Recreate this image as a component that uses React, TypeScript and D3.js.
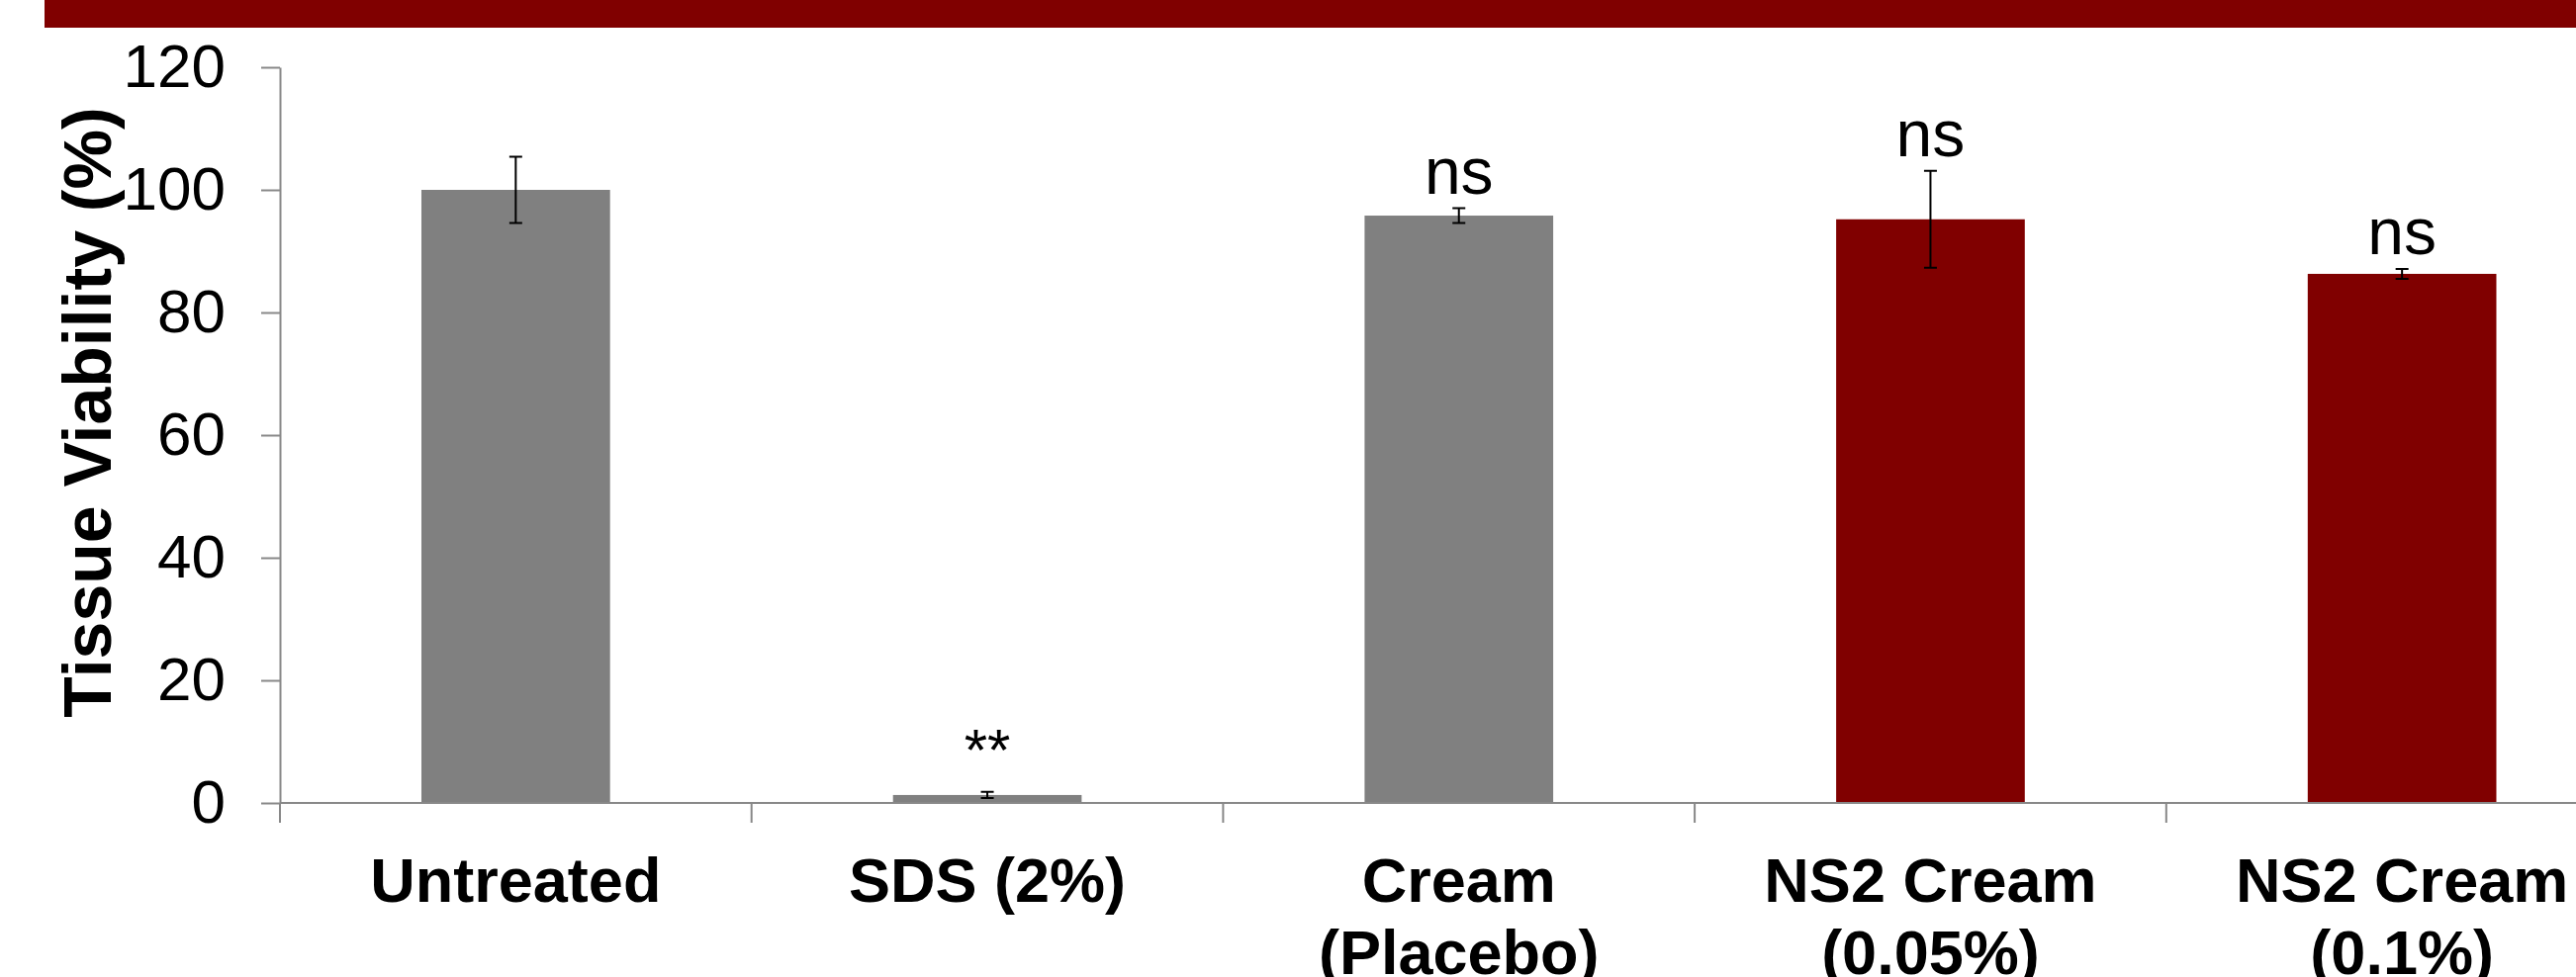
import { useRef, useEffect } from 'react';
import * as d3 from 'd3';

const WIDTH = 2604;
const HEIGHT = 988;
const MARGIN = { top: 68, left: 283, bottom: 812 };

// chart data
const categories = ['Untreated', 'SDS (2%)', 'Cream (Placebo)', 'NS2 Cream (0.05%)', 'NS2 Cream (0.1%)'];
const labelLines = [['Untreated'], ['SDS (2%)'], ['Cream', '(Placebo)'], ['NS2 Cream', '(0.05%)'], ['NS2 Cream', '(0.1%)']];
const viability = [100, 1.3, 95.8, 95.2, 86.3];
const errors = [5.4, 0.5, 1.2, 7.9, 0.8];
const significance = ['', '**', 'ns', 'ns', 'ns'];
const barColors = ['#808080', '#808080', '#808080', '#800000', '#800000'];
const yTicks = [0, 20, 40, 60, 80, 100, 120];

const FONT = '"Liberation Sans", Arial, sans-serif';
const AXIS_GREY = '#888888';

const App = () => {
	const ref = useRef<SVGSVGElement>(null);

	useEffect(() => {
		const svg = d3.select(ref.current);
		svg.selectAll('*').remove();

		svg.append('rect')
			.attr('width', WIDTH)
			.attr('height', HEIGHT)
			.attr('fill', '#ffffff');

		// red header band at the top (title itself is cut off)
		svg.append('rect')
			.attr('x', 45)
			.attr('y', 0)
			.attr('width', WIDTH - 45)
			.attr('height', 28)
			.attr('fill', '#800000');

		const step = 476.7;
		const xScale = d3.scaleBand<string>()
			.domain(categories)
			.range([MARGIN.left, MARGIN.left + step * categories.length])
			.paddingInner(0.6)
			.paddingOuter(0.3);

		const yScale = d3.scaleLinear()
			.domain([0, 120])
			.range([MARGIN.bottom, MARGIN.top]);

		// bars
		svg.append('g')
			.selectAll('rect')
			.data(categories)
			.join('rect')
			.attr('x', d => xScale(d)!)
			.attr('y', (d, i) => yScale(viability[i]))
			.attr('width', xScale.bandwidth())
			.attr('height', (d, i) => yScale(0) - yScale(viability[i]))
			.attr('fill', (d, i) => barColors[i]);

		// error bars
		const errG = svg.append('g')
			.attr('stroke', '#000000')
			.attr('stroke-width', 2)
			.attr('fill', 'none');
		categories.forEach((c, i) => {
			const cx = xScale(c)! + xScale.bandwidth() / 2;
			const hi = yScale(viability[i] + errors[i]);
			const lo = yScale(viability[i] - errors[i]);
			errG.append('path')
				.attr('d', `M${cx},${hi}V${lo}M${cx - 6.5},${hi}H${cx + 6.5}M${cx - 6.5},${lo}H${cx + 6.5}`);
		});

		// significance labels above error bars
		svg.append('g')
			.selectAll('text')
			.data(categories)
			.join('text')
			.attr('x', d => xScale(d)! + xScale.bandwidth() / 2)
			.attr('y', (d, i) => yScale(viability[i] + errors[i]) - (significance[i] === '**' ? 22 : 15))
			.attr('text-anchor', 'middle')
			.attr('font-family', FONT)
			.attr('font-size', (d, i) => significance[i] === '**' ? 60 : 66)
			.attr('fill', '#000000')
			.text((d, i) => significance[i]);

		// y axis
		const yAxis = svg.append('g')
			.attr('transform', `translate(${MARGIN.left},0)`)
			.call(d3.axisLeft(yScale).tickValues(yTicks).tickSize(19).tickSizeOuter(0).tickPadding(36).tickFormat(d3.format('d')));
		yAxis.select('.domain').attr('stroke', AXIS_GREY).attr('stroke-width', 2);
		yAxis.selectAll('.tick line').attr('stroke', AXIS_GREY).attr('stroke-width', 2);
		yAxis.selectAll('.tick text')
			.attr('font-family', FONT)
			.attr('font-size', 62)
			.attr('fill', '#000000');

		// x axis line and category boundary ticks
		const xr = xScale.range();
		svg.append('line')
			.attr('x1', xr[0])
			.attr('x2', xr[1])
			.attr('y1', yScale(0))
			.attr('y2', yScale(0))
			.attr('stroke', AXIS_GREY)
			.attr('stroke-width', 2);
		svg.append('g')
			.selectAll('line')
			.data(d3.range(categories.length + 1))
			.join('line')
			.attr('x1', i => xr[0] + i * xScale.step())
			.attr('x2', i => xr[0] + i * xScale.step())
			.attr('y1', yScale(0))
			.attr('y2', yScale(0) + 20)
			.attr('stroke', AXIS_GREY)
			.attr('stroke-width', 2);

		// category labels (bold, up to two lines)
		const catG = svg.append('g')
			.attr('font-family', FONT)
			.attr('font-weight', 'bold')
			.attr('font-size', 63)
			.attr('text-anchor', 'middle')
			.attr('fill', '#000000');
		categories.forEach((c, i) => {
			const cx = xScale(c)! + xScale.bandwidth() / 2;
			const t = catG.append('text').attr('x', cx).attr('y', 912);
			labelLines[i].forEach((line, j) => {
				t.append('tspan')
					.attr('x', cx)
					.attr('dy', j === 0 ? 0 : 73)
					.text(line);
			});
		});

		// y axis title
		svg.append('text')
			.attr('transform', `translate(112,417) rotate(-90)`)
			.attr('text-anchor', 'middle')
			.attr('font-family', FONT)
			.attr('font-weight', 'bold')
			.attr('font-size', 68)
			.attr('fill', '#000000')
			.text('Tissue Viability (%)');
	}, []);

	return (
		<svg
			ref={ref}
			width={WIDTH}
			height={HEIGHT}
			style={{ position: 'absolute', left: 0, top: 0, display: 'block' }}
		/>
	);
};

export default App;
